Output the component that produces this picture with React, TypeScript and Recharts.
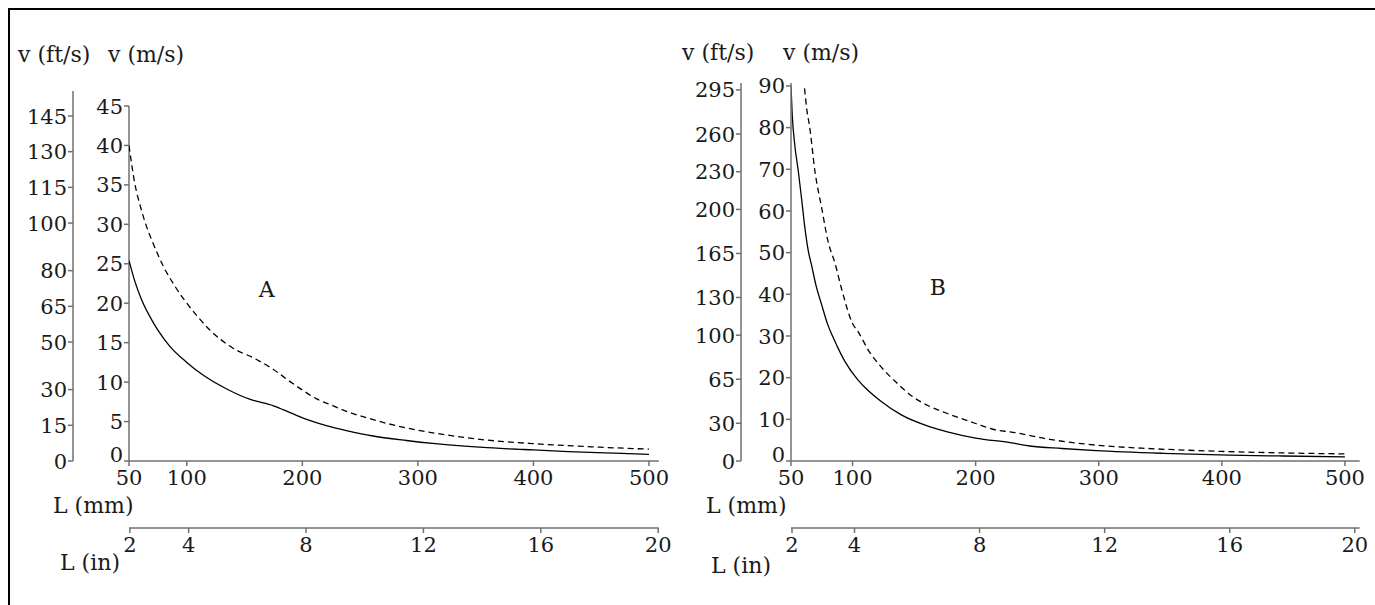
import React from "react"
import {
	LineChart,
	Line,
	XAxis,
	YAxis,
	Label,
	ReferenceLine,
	ReferenceDot,
} from "recharts"

const INK = "#1a1a1a"
const AXIS = "#707070"
const FONT = '"DejaVu Serif", serif'
const MM_PER_IN = 25.4

// tick labels
const mmTicks = [50, 100, 200, 300, 400, 500]
const inTicks = [2, 4, 8, 12, 16, 20]
const msTicksA = [0, 5, 10, 15, 20, 25, 30, 35, 40, 45]
const ftTicksA = [0, 15, 30, 50, 65, 80, 100, 115, 130, 145]
const msTicksB = [0, 10, 20, 30, 40, 50, 60, 70, 80, 90]
const ftTicksB = [0, 30, 65, 100, 130, 165, 200, 230, 260, 295]

// panel A, L (mm) -> v (m/s)
const lenA1 = [50, 55, 61, 70, 75, 85, 100, 115, 135, 155, 175, 190, 205, 220, 240, 260, 290, 315, 360, 400, 430, 470, 500]
const velA1 = [25.4, 22.8, 20.4, 17.8, 16.6, 14.6, 12.5, 10.8, 9.1, 7.8, 7.0, 6.1, 5.2, 4.5, 3.8, 3.2, 2.6, 2.2, 1.7, 1.4, 1.2, 1.0, 0.85]
const lenA2 = [50, 55, 60, 65, 70, 80, 90, 100, 110, 120, 140, 160, 175, 190, 200, 212, 225, 240, 260, 275, 300, 325, 350, 400, 450, 500]
const velA2 = [40, 35.2, 32.2, 29.8, 27.9, 24.6, 22.1, 20.0, 18.2, 16.6, 14.3, 12.9, 11.6, 10.0, 9.0, 7.9, 7.1, 6.2, 5.3, 4.7, 3.9, 3.3, 2.8, 2.2, 1.8, 1.5]

// panel B
const lenB1 = [50, 51, 53, 56, 59, 61, 64, 67, 70, 75, 80, 84, 90, 94, 104, 112, 122, 140, 163, 177, 200, 228, 244, 270, 298, 352, 406, 450, 500]
const velB1 = [90, 83, 76, 69.4, 61.9, 56.6, 50.5, 46.6, 42.5, 37.4, 32.6, 29.8, 26, 23.8, 19.6, 17.1, 14.6, 11, 8.2, 7.0, 5.5, 4.4, 3.6, 3.0, 2.5, 1.85, 1.4, 1.2, 1.0]
const lenB2 = [61, 63, 65, 69.5, 75, 80, 86, 91, 100, 105, 113, 122, 135, 149, 162, 177, 200, 217, 228, 260, 298, 340, 380, 440, 500]
const velB2 = [89.4, 84, 80.5, 69.4, 60.6, 52.8, 47.2, 41.4, 33, 30.8, 26.5, 23, 19, 15.4, 13.2, 11.4, 9.0, 7.4, 7.0, 5.2, 3.8, 3.0, 2.5, 2.0, 1.7]

const toPoints = (xs: number[], ys: number[]) => xs.map((x, i) => ({ x, v: ys[i] }))

// axis ids sort so that the first one sits next to the plot
const X_MM = "x1mm"
const X_IN = "x2in"
const Y_MS = "y1ms"
const Y_FT = "y2ft"

const title = (text: string, dx: number, dy: number) => (props: any) => {
	const vb = props.viewBox
	return (
		<text x={vb.x + dx} y={vb.y + dy} fontSize={22} fill={INK} fontFamily={FONT}>
			{text}
		</text>
	)
}

const YTick = (props: any) => {
	const { x, y, payload, raiseZero } = props
	const shift = raiseZero && payload.value === 0 ? -7 : 0
	return (
		<text x={x} y={y + shift} dy="0.36em" textAnchor="end" fontSize={21} fill={INK} fontFamily={FONT}>
			{payload.value}
		</text>
	)
}

interface PanelProps {
	width: number
	margin: { top: number; right: number; bottom: number; left: number }
	solid: { x: number; v: number }[]
	dashed: { x: number; v: number }[]
	mmMax: number
	msMax: number
	ftMax: number
	msTicks: number[]
	ftTicks: number[]
	msWidth: number
	ftWidth: number
	titles: number[][]
	tag: string
	tagAt: [number, number]
	msLineTop?: number
}

const Panel: React.FC<PanelProps> = (p) => {
	const axisProps = {
		stroke: AXIS,
		strokeWidth: 1.5,
		tickSize: 5,
		interval: 0 as const,
		allowDataOverflow: true,
		type: "number" as const,
	}
	const tickStyle = { fontSize: 21, fill: INK, fontFamily: FONT }
	return (
		<LineChart width={p.width} height={578} margin={p.margin}>
			<XAxis
				{...axisProps}
				xAxisId={X_MM}
				dataKey="x"
				domain={[50, p.mmMax]}
				ticks={mmTicks}
				height={67}
				tickMargin={4}
				tick={tickStyle}
				label={<Label content={title("L (mm)", p.titles[2][0], p.titles[2][1])} />}
			/>
			<XAxis
				{...axisProps}
				xAxisId={X_IN}
				dataKey="x"
				domain={[50, p.mmMax]}
				ticks={inTicks.map((t) => t * MM_PER_IN)}
				tickFormatter={(v: number) => String(Math.round(v / MM_PER_IN))}
				height={60}
				tickMargin={4}
				tick={tickStyle}
				label={<Label content={title("L (in)", p.titles[3][0], p.titles[3][1])} />}
			/>
			<YAxis
				{...axisProps}
				yAxisId={Y_MS}
				domain={[0, p.msMax]}
				ticks={p.msTicks}
				width={p.msWidth}
				tickMargin={1}
				axisLine={p.msLineTop === undefined}
				tick={<YTick raiseZero />}
				label={<Label content={title("v (m/s)", p.titles[1][0], p.titles[1][1])} />}
			/>
			<YAxis
				{...axisProps}
				yAxisId={Y_FT}
				domain={[0, p.ftMax]}
				ticks={p.ftTicks}
				width={p.ftWidth}
				tickMargin={1}
				tick={<YTick />}
				label={<Label content={title("v (ft/s)", p.titles[0][0], p.titles[0][1])} />}
			/>
			{p.msLineTop !== undefined && (
				<ReferenceLine
					xAxisId={X_MM}
					yAxisId={Y_MS}
					segment={[
						{ x: 50, y: 0 },
						{ x: 50, y: p.msLineTop },
					]}
					stroke={AXIS}
					strokeWidth={1.5}
				/>
			)}
			{/* same curve on the inch axis, not drawn, so the axis gets its scale */}
			<Line
				xAxisId={X_IN}
				yAxisId={Y_MS}
				data={p.solid}
				dataKey="v"
				stroke="none"
				dot={false}
				activeDot={false}
				isAnimationActive={false}
			/>
			<Line
				xAxisId={X_MM}
				yAxisId={Y_MS}
				data={p.dashed}
				dataKey="v"
				type="monotone"
				stroke="#000"
				strokeWidth={1.3}
				strokeDasharray="6 4"
				dot={false}
				isAnimationActive={false}
			/>
			<Line
				xAxisId={X_MM}
				yAxisId={Y_MS}
				data={p.solid}
				dataKey="v"
				type="monotone"
				stroke="#000"
				strokeWidth={1.3}
				dot={false}
				isAnimationActive={false}
			/>
			<ReferenceDot
				xAxisId={X_MM}
				yAxisId={Y_MS}
				x={p.tagAt[0]}
				y={p.tagAt[1]}
				r={0}
				fill="none"
				stroke="none"
				label={{ value: p.tag, position: "center", fontSize: 22, fill: INK, fontFamily: FONT }}
			/>
		</LineChart>
	)
}

export default function App() {
	return (
		<div
			style={{
				position: "fixed",
				left: 8,
				top: 8,
				width: 1367,
				height: 597,
				borderTop: "2px solid #000",
				borderLeft: "2px solid #000",
				boxSizing: "border-box",
				background: "#fff",
				fontFamily: FONT,
			}}
		>
			<div style={{ position: "absolute", left: 0, top: 0 }}>
				<Panel
					width={670}
					margin={{ top: 81, right: 21.2, bottom: 0, left: 3 }}
					solid={toPoints(lenA1, velA1)}
					dashed={toPoints(lenA2, velA2)}
					mmMax={508.5}
					msMax={46.9}
					ftMax={155.5}
					msTicks={msTicksA}
					ftTicks={ftTicksA}
					msWidth={56}
					ftWidth={60}
					titles={[
						[5, -29],
						[35, -29],
						[-76, 52],
						[-69, 42],
					]}
					tag="A"
					tagAt={[169.2, 21.8]}
					msLineTop={45}
				/>
			</div>
			<div style={{ position: "absolute", left: 670, top: 0 }}>
				<Panel
					width={695}
					margin={{ top: 73, right: 15.3, bottom: 0, left: 6 }}
					solid={toPoints(lenB1, velB1)}
					dashed={toPoints(lenB2, velB2)}
					mmMax={512}
					msMax={90.7}
					ftMax={300.5}
					msTicks={msTicksB}
					ftTicks={ftTicksB}
					msWidth={50}
					ftWidth={55}
					titles={[
						[-4, -23],
						[42, -23],
						[-85, 52],
						[-80, 45],
					]}
					tag="B"
					tagAt={[169.2, 41.8]}
				/>
			</div>
		</div>
	)
}
